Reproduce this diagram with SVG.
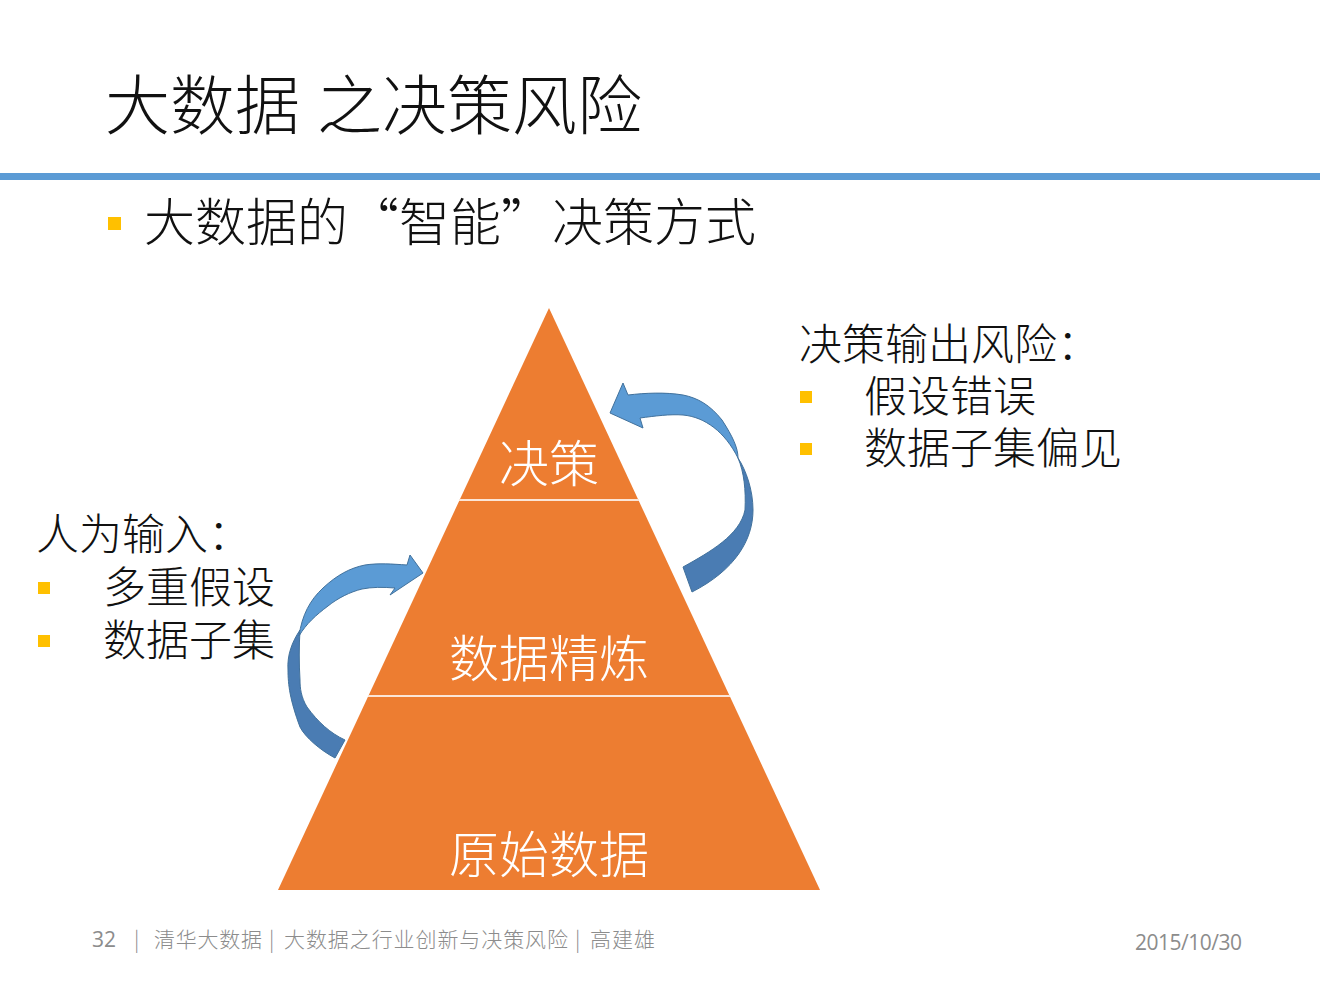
<svg xmlns="http://www.w3.org/2000/svg" width="1320" height="990" viewBox="0 0 1320 990">
<style>
.cjk{font-family:"Noto Sans CJK SC","Noto Sans",sans-serif;font-weight:300;}
.blk{fill:#111111;}
.note{font-size:43px;}
.wht{fill:#FFFFFF;text-anchor:middle;font-size:50px;}
.bul{fill:#FFC000;}
.foot{fill:#8C8C8C;font-size:21px;}
.lt{fill:#5B9BD5;stroke:#41719C;stroke-width:1;}
.dk{fill:#4A7CB3;stroke:#41719C;stroke-width:1;}
</style>
<rect width="1320" height="990" fill="#FFFFFF"/>
<g id="title">
<text class="cjk blk" x="105" y="129" font-size="65">大数据</text>
<text class="cjk blk" x="317" y="129" font-size="65">之决策风险</text>
</g>
<rect id="rule" x="0" y="173" width="1320" height="7" fill="#5B9BD5"/>
<g id="subtitle">
<rect class="bul" x="108" y="217" width="13" height="13"/>
<text class="cjk blk" x="144" y="241" font-size="51">大数据的“智能”决策方式</text>
</g>
<g id="pyramid">
<polygon points="549,308 820,890 278,890" fill="#ED7D31"/>
<line x1="459" y1="500" x2="639" y2="500" stroke="#FBE5D6" stroke-width="2"/>
<line x1="368" y1="696" x2="730" y2="696" stroke="#FBE5D6" stroke-width="2"/>
</g>
<g id="node-decision"><text class="cjk wht" x="549" y="482">决策</text></g>
<g id="node-refine"><text class="cjk wht" x="549" y="677">数据精炼</text></g>
<g id="node-raw"><text class="cjk wht" x="549" y="873">原始数据</text></g>
<g id="right-notes">
<text class="cjk blk note" x="799" y="360">决策输出风险：</text>
<rect class="bul" x="800" y="391" width="12" height="12"/>
<text class="cjk blk note" x="864" y="412">假设错误</text>
<rect class="bul" x="800" y="443" width="12" height="12"/>
<text class="cjk blk note" x="864" y="464">数据子集偏见</text>
</g>
<g id="left-notes">
<text class="cjk blk note" x="36" y="550">人为输入：</text>
<rect class="bul" x="38" y="582" width="12" height="12"/>
<text class="cjk blk note" x="103" y="603">多重假设</text>
<rect class="bul" x="38" y="635" width="12" height="12"/>
<text class="cjk blk note" x="103" y="656">数据子集</text>
</g>
<g id="connectors">
<g id="arrow-right">
<path class="dk" d="M738,458 C746,470 753,490 753,510 C753,540 735,570 692,592 L683,567 C710,552 740,535 745,510 C746,490 744,472 738,458 Z"/>
<path class="lt" d="M628,395 L623,383 L610,413 L643,428 L640,418 C655,416 670,414 683,415 C705,417 725,432 738,458 C738,448 733,437 722,420 C710,405 698,398 683,395 C665,392 645,393 628,395 Z"/>
</g>
<g id="arrow-left">
<path class="dk" d="M300,630 C292,642 287,655 288,670 C288,685 290,700 300,727 C305,737 320,750 335,758 L345,740 C330,733 318,722 307,707 C301,697 300,688 300,680 C299,665 299,645 300,630 Z"/>
<path class="lt" d="M299,636 C302,615 310,600 323,588 C337,575 350,568 365,565 C378,563 392,564 407,565 L410,555 L423,573 L390,595 L395,588 C383,587 372,587 362,589 C350,592 338,598 328,606 C316,615 306,624 299,636 Z"/>
</g>
</g>
<g id="footer">
<text class="foot" x="92" y="947" font-family="'Open Sans',sans-serif" font-size="19">32</text>
<text class="cjk foot" x="134" y="947">|</text>
<text class="cjk foot" x="154" y="947" textLength="108">清华大数据</text>
<text class="cjk foot" x="269" y="947">|</text>
<text class="cjk foot" x="284" y="947" textLength="284">大数据之行业创新与决策风险</text>
<text class="cjk foot" x="575" y="947">|</text>
<text class="cjk foot" x="590" y="947" textLength="65">高建雄</text>
<text class="foot" x="1135" y="950" font-family="'Open Sans',sans-serif" font-size="19" textLength="107">2015/10/30</text>
</g>
</svg>
